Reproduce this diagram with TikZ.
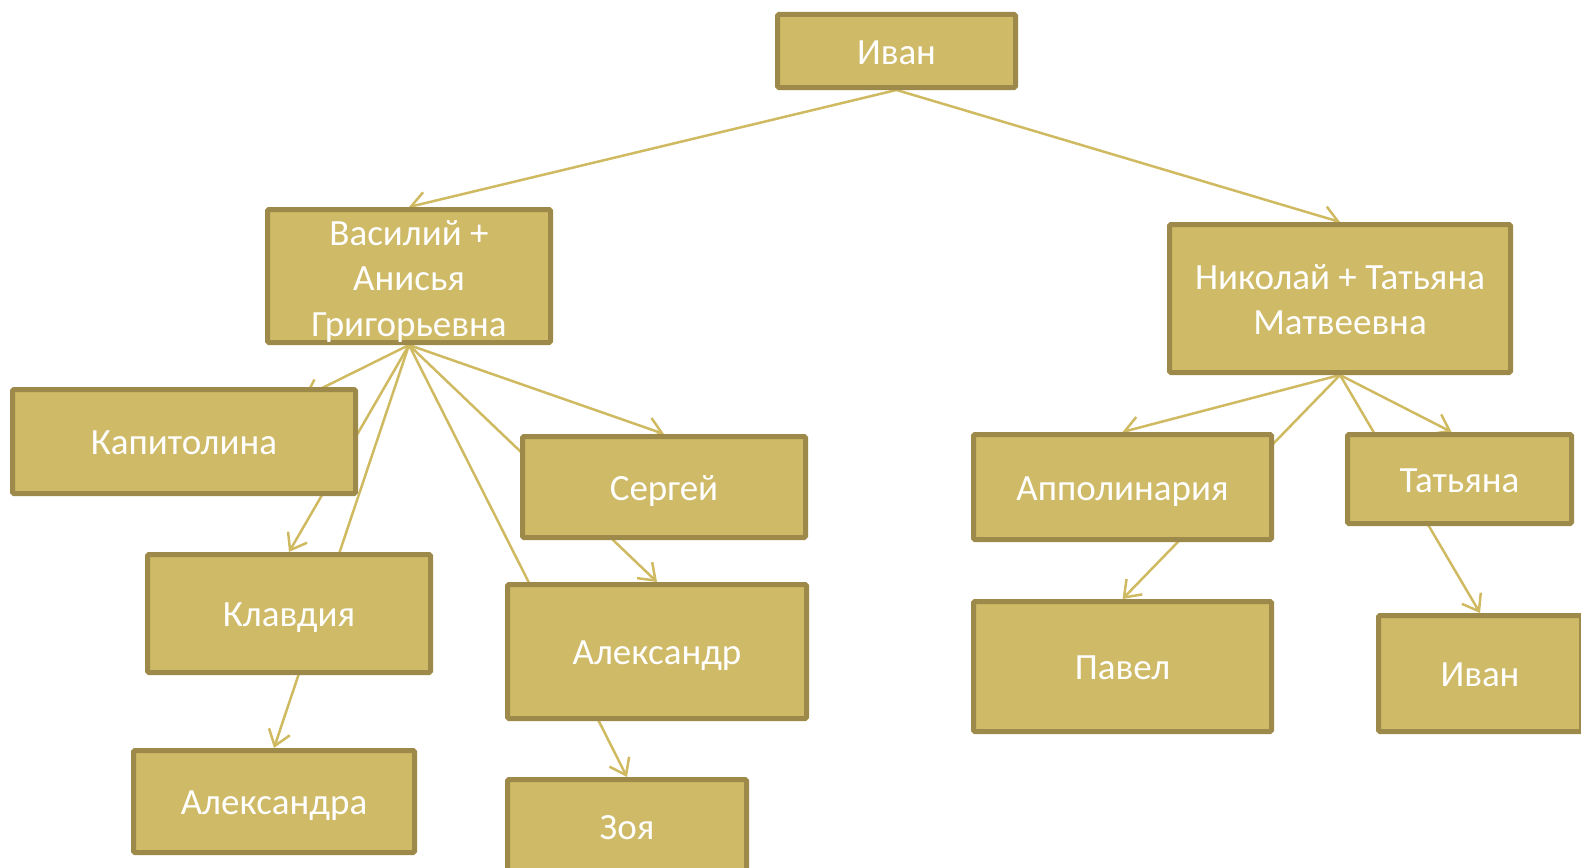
\documentclass[tikz,border=0pt]{standalone}
\usepackage{fontspec}
\setmainfont{Carlito}
\usetikzlibrary{arrows.meta}
\pgfdeclarelayer{bg}
\pgfsetlayers{bg,main}
\definecolor{boxfill}{HTML}{CFBA67}
\definecolor{boxline}{HTML}{9D8A4B}
\definecolor{conn}{HTML}{CFBA62}
\newcommand{\topstrut}[1]{\rule{0pt}{#1}}
\begin{document}
\begin{tikzpicture}[x=1pt,y=-1pt,
  box/.style={draw=boxline, fill=boxfill, line width=5pt, rounded corners=1.5pt,
    text=white, font=\fontsize{37}{45.5}\selectfont, align=center, inner sep=0pt,
    execute at begin node={\rule{0pt}{35pt}},
    execute at end node={\rule[-9pt]{0pt}{0pt}}},
  link/.style={draw=conn, line width=2.5pt, -{Straight Barb[length=15pt,width=22pt]}}]
\useasboundingbox (0,0) rectangle (1581,867);

\node[box, minimum width=238pt, minimum height=73pt] (ivan) at (896.5,51) {Иван};
\node[box, inner ysep=-5pt, minimum width=283pt, minimum height=133pt] (vas) at (409,276) {\topstrut{38pt}Василий +\\Анисья\\Григорьевна};
\node[box, minimum width=341pt, minimum height=148pt] (nik) at (1340,298.5) {\topstrut{36pt}Николай + Татьяна\\Матвеевна};
\node[box, minimum width=343pt, minimum height=104pt] (kap) at (184,441.5) {Капитолина};
\node[box, minimum width=283pt, minimum height=118pt] (klav) at (289,613.5) {Клавдия};
\node[box, minimum width=281pt, minimum height=102pt] (alexandra) at (274,801.5) {Александра};
\node[box, minimum width=283pt, minimum height=101pt] (serg) at (664,487) {Сергей};
\node[box, minimum width=299pt, minimum height=134pt] (alexandr) at (657,651.5) {Александр};
\node[box, minimum width=239pt, minimum height=93pt] (zoya) at (627,826) {Зоя};
\node[box, minimum width=298pt, minimum height=105pt] (appol) at (1122.5,487) {Апполинария};
\node[box, minimum width=224pt, minimum height=89pt] (tat) at (1459.5,479) {Татьяна};
\node[box, minimum width=298pt, minimum height=130pt] (pavel) at (1122.5,666.5) {Павел};
\node[box, minimum width=203pt, minimum height=116pt] (ivan2) at (1480,673.5) {Иван};

\begin{pgfonlayer}{bg}
\draw[link] (ivan.south) -- (vas.north);
\draw[link] (ivan.south) -- (nik.north);
\draw[link] (vas.south) -- ([xshift=120pt,yshift=-10pt]kap.north);
\draw[link] (vas.south) -- (klav.north);
\draw[link] (vas.south) -- (alexandra.north);
\draw[link] (vas.south) -- (zoya.north);
\draw[link] (vas.south) -- (alexandr.north);
\draw[link] (vas.south) -- (serg.north);
\draw[link] (nik.south) -- (appol.north);
\draw[link] (nik.south) -- (pavel.north);
\draw[link] (nik.south) -- ([xshift=-8pt]tat.north);
\draw[link] (nik.south) -- (ivan2.north);
\end{pgfonlayer}
\end{tikzpicture}
\end{document}
